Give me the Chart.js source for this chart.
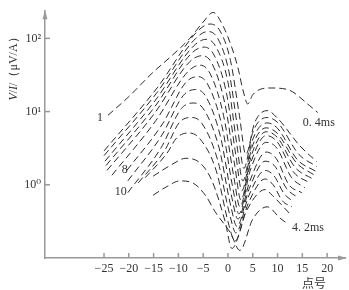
<!DOCTYPE html>
<html>
<head>
  <meta charset="UTF-8">
  <title>V/I profile</title>
  <script src="https://cdn.jsdelivr.net/npm/chart.js"></script>
  <style>
    body { margin: 0; background: #fff; }
    .wrap { width: 349px; height: 290px; }
  </style>
</head>
<body>
  <div class="wrap"><canvas id="chart"></canvas></div>

  <script>
    // point number (x) and V/I in uV/A (v) for each delay-time curve, top to bottom
    const x1 = [-24.2, -20, -15, -11.7, -7.7, -5, -3, -1, 0.8, 2, 3, 4, 5, 8.5, 12, 16.5, 18.1];
    const v1 = [8.9, 16, 35, 55, 100, 167, 226, 148, 74, 40, 20, 12.7, 17, 21, 20, 12, 9.7];
    const x2 = [-25, -14.3, -6.1, -3.6, -1.6, 0.5, 2.3, 3.6, 5.4, 7.9, 10, 14.5, 17.9];
    const v2 = [2.9, 21, 126, 157, 126, 50, 8.9, 2.6, 7.1, 10.3, 8.1, 3.4, 2.07];
    const x3 = [-25, -14.5, -6.5, -4.0, -2.0, 0.2, 2.0, 3.2, 5.0, 7.9, 10, 14.3, 17.9];
    const v3 = [2.5, 17.5, 100, 124, 98, 35, 5.6, 1.67, 5.2, 8.3, 7.1, 2.6, 1.78];
    const x4 = [-24.8, -14.6, -6.9, -4.4, -2.4, 0, 1.8, 3.0, 4.9, 7.9, 10, 14, 17.7];
    const v4 = [2.1, 14.4, 79, 97, 76, 25, 3.5, 1.13, 4.0, 7.0, 5.9, 2.2, 1.53];
    const x5 = [-24.6, -14.7, -7.3, -4.8, -2.8, -0.3, 1.6, 2.8, 4.8, 7.7, 10, 13.8, 17.5];
    const v5 = [1.83, 11.8, 63, 76, 59, 17.8, 2.5, 0.83, 3.2, 6.0, 5.0, 2.0, 1.35];
    const x6 = [-24.4, -14.8, -7.7, -5.2, -3.2, -0.6, 1.4, 2.6, 4.7, 7.7, 10, 13.5, 17.1];
    const v6 = [1.57, 9.5, 48, 58, 45, 12.6, 1.78, 0.62, 2.5, 5.3, 4.4, 1.74, 1.2];
    const x7 = [-23.4, -14.5, -8.1, -5.6, -3.6, -0.9, 1.2, 2.4, 4.6, 7.7, 10, 13.2, 16.5];
    const v7 = [1.35, 7.6, 35, 43, 33, 8.9, 1.26, 0.5, 2.0, 4.7, 3.8, 1.5, 1.06];
    const x8 = [-20.4, -13.2, -8.5, -6.0, -4.0, -1.2, 1.0, 2.2, 4.5, 7.7, 9.8, 12.8, 15.5];
    const v8 = [1.57, 6.8, 25, 30, 23, 6.3, 0.89, 0.4, 1.58, 3.8, 3.2, 1.26, 0.91];
    const x9 = [-20.2, -13.3, -9.0, -6.5, -4.4, -1.5, 0.8, 2.0, 4.4, 7.7, 9.7, 12.3, 14.9];
    const v9 = [1.13, 4.8, 16.6, 20, 15.8, 4.5, 0.66, 0.34, 1.12, 2.8, 2.3, 1.0, 0.78];
    const x10 = [-20.2, -13.5, -9.4, -6.9, -4.8, -1.8, 0.6, 1.8, 4.3, 7.5, 9.5, 11.8, 14.1];
    const v10 = [0.78, 3.2, 11, 13.1, 10.5, 3.2, 0.5, 0.27, 0.89, 2.1, 1.78, 0.89, 0.67];
    const x11 = [-18.1, -12.7, -9.8, -7.3, -5.2, -2.1, 0.4, 1.6, 4.2, 7.5, 9.3, 11.3, 13.3];
    const v11 = [1.06, 3.0, 7.1, 8.3, 6.8, 2.2, 0.38, 0.22, 0.71, 1.57, 1.32, 0.76, 0.58];
    const x12 = [-16.7, -12.3, -10.3, -7.9, -5.6, -2.4, 0.2, 1.4, 4.1, 7.5, 9.1, 11, 12.9];
    const v12 = [1.25, 2.7, 4.4, 5.1, 4.2, 1.58, 0.28, 0.17, 0.56, 1.2, 1.0, 0.6, 0.5];
    const x13 = [-15.1, -11.5, -8.5, -5.5, -3.2, -0.6, 0.8, 3.8, 7.5, 9, 12.5];
    const v13 = [1.31, 1.86, 2.3, 1.95, 1.12, 0.32, 0.135, 0.45, 0.86, 0.71, 0.4];
    const x14 = [-15.1, -12.5, -9.7, -7.0, -4.5, -2.6, 0.5, 2.4, 5.0, 7.9, 10.5, 12.1];
    const v14 = [0.72, 0.93, 1.13, 1.05, 0.71, 0.43, 0.22, 0.127, 0.34, 0.5, 0.35, 0.29];

    const xTicks = [-25, -20, -15, -10, -5, 0, 5, 10, 15, 20];
    const yTicks = [1, 10, 100];

    // curve annotations: text, x, v, alignment
    const notes = [
      ['1', -25.8, 8.1, 'center'],
      ['8', -20.8, 1.62, 'center'],
      ['10', -21.6, 0.81, 'center'],
      ['0. 4ms', 15.1, 6.95, 'left'],
      ['4. 2ms', 12.9, 0.257, 'left']
    ];

    const curvesX = [x1, x2, x3, x4, x5, x6, x7, x8, x9, x10, x11, x12, x13, x14];
    const curvesV = [v1, v2, v3, v4, v5, v6, v7, v8, v9, v10, v11, v12, v13, v14];

    const datasets = curvesX.map((xs, i) => ({
      data: xs.map((x, j) => ({ x: x, y: curvesV[i][j] })),
      borderColor: '#2a2a2a',
      borderWidth: 1,
      borderDash: [7, 4],
      pointRadius: 0,
      cubicInterpolationMode: 'monotone',
      fill: false
    }));

    const serif = "'Liberation Serif', 'DejaVu Serif', serif";
    const sup = { '0': '\u2070', '1': '\u00b9', '2': '\u00b2' };

    const extras = {
      id: 'extras',
      afterDraw(chart) {
        const ctx = chart.ctx;
        const xs = chart.scales.x, ys = chart.scales.y;
        const a = chart.chartArea;
        ctx.save();
        ctx.strokeStyle = '#999';
        ctx.fillStyle = '#999';
        ctx.lineWidth = 1.5;
        // inward ticks
        xTicks.forEach(t => {
          const px = xs.getPixelForValue(t);
          ctx.beginPath(); ctx.moveTo(px, a.bottom); ctx.lineTo(px, a.bottom - 5); ctx.stroke();
        });
        yTicks.forEach(t => {
          const py = ys.getPixelForValue(t);
          ctx.beginPath(); ctx.moveTo(a.left, py); ctx.lineTo(a.left + 5, py); ctx.stroke();
        });
        // arrow heads
        ctx.beginPath();
        ctx.moveTo(a.left, a.top - 1); ctx.lineTo(a.left - 2.5, a.top + 8); ctx.lineTo(a.left + 2.5, a.top + 8);
        ctx.closePath(); ctx.fill();
        ctx.beginPath();
        ctx.moveTo(a.right + 2, a.bottom); ctx.lineTo(a.right - 7, a.bottom - 2.5); ctx.lineTo(a.right - 7, a.bottom + 2.5);
        ctx.closePath(); ctx.fill();

        // curve labels
        ctx.fillStyle = '#333';
        ctx.font = '12px ' + serif;
        ctx.textBaseline = 'middle';
        notes.forEach(n => {
          ctx.textAlign = n[3];
          ctx.fillText(n[0], xs.getPixelForValue(n[1]), ys.getPixelForValue(n[2]));
        });

        // x axis name
        ctx.textAlign = 'center';
        ctx.font = "12px 'Noto Sans CJK SC', sans-serif";
        ctx.fillText('点号', 314, 283);

        // y axis title, rotated
        ctx.translate(14, 66);
        ctx.rotate(-Math.PI / 2);
        const parts = [['V', 'italic '], ['/', ''], ['I', 'italic '], ['/（μV/A）', '']];
        let w = 0;
        parts.forEach(p => { ctx.font = p[1] + '12px ' + serif; w += ctx.measureText(p[0]).width; });
        let cx = -w / 2;
        ctx.textAlign = 'left';
        parts.forEach(p => {
          ctx.font = p[1] + '12px ' + serif;
          ctx.fillText(p[0], cx, 0);
          cx += ctx.measureText(p[0]).width;
        });
        ctx.restore();
      }
    };

    new Chart(document.getElementById('chart'), {
      type: 'line',
      data: { datasets: datasets },
      options: {
        responsive: true,
        maintainAspectRatio: false,
        animation: false,
        layout: { padding: { top: 2, right: 4, left: 0, bottom: 0 } },
        plugins: { legend: { display: false }, tooltip: { enabled: false } },
        scales: {
          x: {
            type: 'linear',
            min: -36.9,
            max: 23.6,
            grid: { display: false, drawTicks: false },
            border: { display: true, color: '#999', width: 1.5 },
            afterBuildTicks: s => { s.ticks = xTicks.map(v => ({ value: v })); },
            afterFit: s => { s.height = 32; },
            ticks: {
              padding: 4,
              color: '#333',
              font: { family: serif, size: 12 },
              maxRotation: 0,
              autoSkip: false,
              callback: v => (v < 0 ? '\u2212' + (-v) : String(v))
            }
          },
          y: {
            type: 'logarithmic',
            min: 0.1,
            max: 235,
            grid: { display: false, drawTicks: false },
            border: { display: true, color: '#999', width: 1.5 },
            afterBuildTicks: s => { s.ticks = yTicks.map(v => ({ value: v })); },
            afterFit: s => { s.width = 45; },
            ticks: {
              padding: 4,
              color: '#333',
              font: { family: serif, size: 12 },
              callback: v => '10' + sup[String(Math.round(Math.log10(v)))]
            }
          }
        }
      },
      plugins: [extras]
    });
  </script>
</body>
</html>
